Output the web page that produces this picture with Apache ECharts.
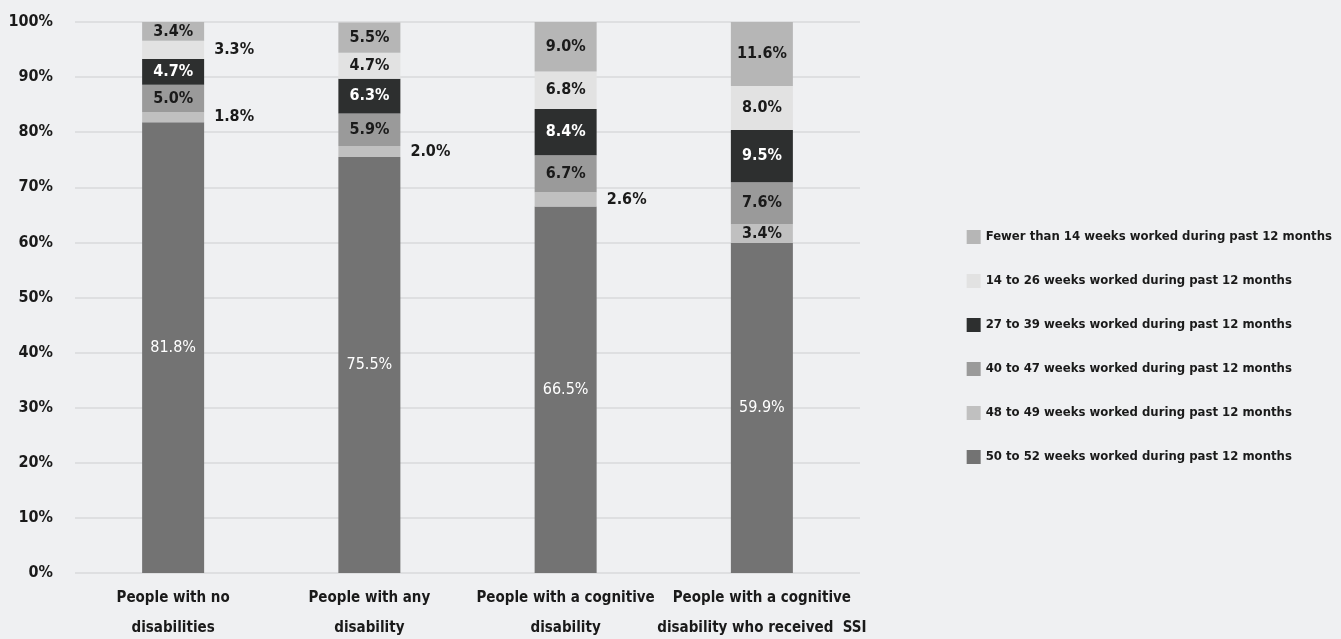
<!DOCTYPE html>
<html>
<head>
<meta charset="utf-8">
<script src="https://cdn.jsdelivr.net/npm/echarts@6/dist/echarts.min.js"></script>
<style>
html,body{margin:0;padding:0;background:#eff0f2;}
#chart_container{width:1341px;height:639px;}
</style>
</head>
<body>
<div id="chart_container"></div>
<script>
// data (percent of workers)
var categories = ['People with no\ndisabilities', 'People with any\ndisability', 'People with a cognitive\ndisability', 'People with a cognitive\ndisability who received  SSI'];
var seriesNames = [
	'50 to 52 weeks worked during past 12 months',
	'48 to 49 weeks worked during past 12 months',
	'40 to 47 weeks worked during past 12 months',
	'27 to 39 weeks worked during past 12 months',
	'14 to 26 weeks worked during past 12 months',
	'Fewer than 14 weeks worked during past 12 months'
];
var weeks50to52 = [81.8, 75.5, 66.5, 59.9];
var weeks48to49 = [1.8, 2.0, 2.6, 3.4];
var weeks40to47 = [5.0, 5.9, 6.7, 7.6];
var weeks27to39 = [4.7, 6.3, 8.4, 9.5];
var weeks14to26 = [3.3, 4.7, 6.8, 8.0];
var fewerThan14 = [3.4, 5.5, 9.0, 11.6];
var seriesValues = [weeks50to52, weeks48to49, weeks40to47, weeks27to39, weeks14to26, fewerThan14];

// which labels sit beside the bar (series index, category index)
var outsideLabels = ['1-0', '1-1', '1-2', '4-0'];

var colors = ['#737373', '#c0c0c0', '#9a9a9a', '#2d2f2f', '#e2e2e2', '#b6b6b6'];
var labelColors = ['#ffffff', '#1a1a1a', '#1a1a1a', '#ffffff', '#1a1a1a', '#1a1a1a'];
var font = '"DejaVu Sans Condensed", sans-serif';

var chart = echarts.init(document.getElementById('chart_container'));

var series = seriesValues.map(function (vals, si) {
	return {
		name: seriesNames[si],
		type: 'bar',
		stack: 'total',
		barWidth: 62,
		itemStyle: { color: colors[si] },
		label: {
			show: true,
			position: 'inside',
			formatter: function (p) { return p.value.toFixed(1) + '%'; },
			color: labelColors[si],
			fontFamily: font,
			fontWeight: si == 0 ? 'normal' : 'bold',
			fontSize: 16
		},
		data: vals.map(function (v, ci) {
			if (outsideLabels.indexOf(si + '-' + ci) >= 0) {
				return { value: v, label: { position: 'right', distance: 10, color: '#1a1a1a' } };
			}
			return v;
		})
	};
});

var option = {
	backgroundColor: '#eff0f2',
	animation: false,
	grid: { left: 75, right: 481, top: 22, bottom: 66, outerBoundsMode: 'none' },
	legend: {
		orient: 'vertical',
		right: 4,
		top: 225,
		itemWidth: 14,
		itemHeight: 14,
		itemGap: 30,
		icon: 'rect',
		data: seriesNames.slice().reverse(),
		textStyle: { fontFamily: font, fontWeight: 'bold', fontSize: 13, color: '#1a1a1a', lineHeight: 14 }
	},
	xAxis: {
		type: 'category',
		data: categories,
		axisLine: { show: false },
		axisTick: { show: false },
		axisLabel: { fontFamily: font, fontWeight: 'bold', fontSize: 15, color: '#1a1a1a', lineHeight: 30, margin: 10, interval: 0 }
	},
	yAxis: {
		type: 'value',
		min: 0,
		max: 100,
		interval: 10,
		axisLabel: { formatter: '{value}%', fontFamily: font, fontWeight: 'bold', fontSize: 16, color: '#1a1a1a', margin: 22 },
		splitLine: { lineStyle: { color: '#dedfe1', width: 2 } }
	},
	series: series
};
chart.setOption(option);
</script>
</body>
</html>
